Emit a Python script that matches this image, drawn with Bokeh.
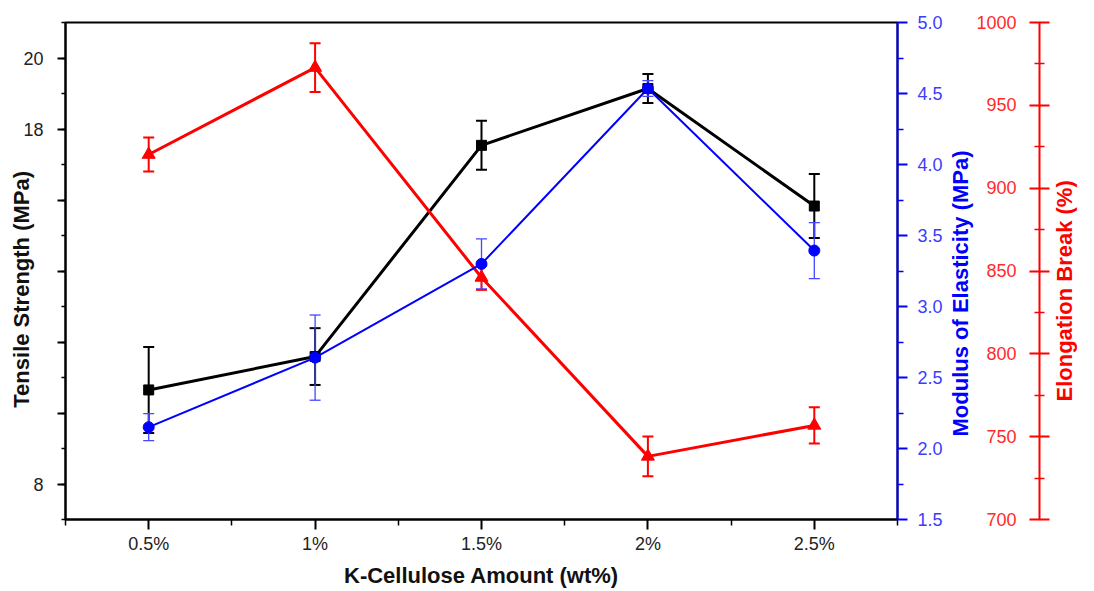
import math
from bokeh.plotting import figure
from bokeh.models import (LinearAxis, Range1d, FixedTicker, Whisker, TeeHead,
                          ColumnDataSource, CustomJSTickFormatter)
from bokeh.embed import file_html
from bokeh.resources import INLINE

# ---------------- data ----------------
x_vals = [0.5, 1.0, 1.5, 2.0, 2.5]
x_labels = ["0.5%", "1%", "1.5%", "2%", "2.5%"]

tensile = [10.65, 11.59, 17.54, 19.14, 15.83]
tensile_err = [1.21, 0.80, 0.69, 0.41, 0.90]

modulus = [2.15, 2.64, 3.30, 4.535, 3.394]
modulus_err = [0.095, 0.30, 0.176, 0.055, 0.197]

elong = [920.3, 972.8, 846.1, 738.1, 756.8]
elong_err = [10.3, 14.7, 7.5, 12.0, 11.0]

tensile_ticks = [8, 10, 12, 14, 16, 18, 20]
tensile_labels = ["8", "", "", "", "", "18", "20"]
modulus_ticks = [1.5, 2.0, 2.5, 3.0, 3.5, 4.0, 4.5, 5.0]
modulus_labels = ["1.5", "2.0", "2.5", "3.0", "3.5", "4.0", "4.5", "5.0"]
elong_ticks = [700, 750, 800, 850, 900, 950, 1000]
elong_labels = ["700", "750", "800", "850", "900", "950", "1000"]

FONT = "Liberation Sans"
BLUE = "#0000ff"
BLUE_TXT = "#3c3cff"
RED = "#ff0000"
TITLE_SIZE = "22px"

# layout geometry (screen pixels)
W, H = 1094, 591
FRAME_L, FRAME_R, FRAME_T, FRAME_B = 65, 897, 22, 519
X0, X1 = 0.25, 2.75
Y0, Y1 = 7, 21
MOD0, MOD1 = 1.5, 5.0
EL0, EL1 = 700, 1000

src = ColumnDataSource(dict(
    x=x_vals,
    t=tensile, t_lo=[v - e for v, e in zip(tensile, tensile_err)], t_hi=[v + e for v, e in zip(tensile, tensile_err)],
    m=modulus, m_lo=[v - e for v, e in zip(modulus, modulus_err)], m_hi=[v + e for v, e in zip(modulus, modulus_err)],
    e=elong, e_lo=[v - e for v, e in zip(elong, elong_err)], e_hi=[v + e for v, e in zip(elong, elong_err)],
))

p = figure(width=W, height=H, x_range=Range1d(X0, X1), y_range=Range1d(Y0, Y1),
           output_backend="svg", toolbar_location=None,
           min_border_left=FRAME_L, min_border_right=W - FRAME_R,
           min_border_top=FRAME_T, min_border_bottom=H - FRAME_B)
p.extra_y_ranges = {"mod": Range1d(MOD0, MOD1), "elong": Range1d(EL0, EL1)}
p.xgrid.visible = False
p.ygrid.visible = False
p.outline_line_color = "black"
p.outline_line_width = 2
p.background_fill_color = "white"
p.border_fill_color = "white"

def style_common(ax, color, txt_color):
    ax.axis_line_color = color
    ax.axis_line_width = 2
    ax.major_tick_line_color = color
    ax.major_tick_line_width = 2
    ax.minor_tick_line_color = color
    ax.minor_tick_line_width = 1.5
    ax.major_label_text_font = FONT
    ax.major_label_text_font_size = "18px"
    ax.major_label_text_color = txt_color
    ax.axis_label_text_font = FONT
    ax.axis_label_text_font_size = TITLE_SIZE
    ax.axis_label_text_font_style = "bold"
    ax.axis_label_text_color = color

def screen_to_range(sy, lo, hi):
    return hi - (sy - FRAME_T) * (hi - lo) / (FRAME_B - FRAME_T)

def title_axis(text, range_name, lo, hi, start_sy, color, standoff):
    """A bare axis whose only tick label is the vertical title (reads bottom-to-top)."""
    start = screen_to_range(start_sy, lo, hi)
    ax = LinearAxis(y_range_name=range_name)
    ax.ticker = FixedTicker(ticks=[start], minor_ticks=[])
    ax.major_label_overrides = {start: text}
    ax.major_label_orientation = math.pi / 2
    ax.axis_line_color = None
    ax.major_tick_line_color = None
    ax.minor_tick_line_color = None
    ax.major_tick_in = 0
    ax.major_tick_out = 0
    ax.minor_tick_in = 0
    ax.minor_tick_out = 0
    ax.major_label_standoff = standoff
    ax.major_label_text_font = FONT
    ax.major_label_text_font_size = TITLE_SIZE
    ax.major_label_text_font_style = "bold"
    ax.major_label_text_color = color
    p.add_layout(ax, "right")
    return ax

NB = "\u00a0"

# x axis
xa = p.xaxis[0]
style_common(xa, "black", "#222222")
xa.ticker = FixedTicker(ticks=x_vals, minor_ticks=[v - 0.25 for v in x_vals] + [x_vals[-1] + 0.25])
xa.major_label_overrides = {v: l for v, l in zip(x_vals, x_labels)}
xa.major_tick_in = 0
xa.major_tick_out = 10
xa.minor_tick_in = 0
xa.minor_tick_out = 6
xa.major_label_standoff = 4
xa.axis_label = "K-Cellulose Amount (wt%)"
xa.axis_label_standoff = 6
xa.axis_label_text_color = "#111111"

# left axis
ya = p.yaxis[0]
style_common(ya, "black", "#222222")
ya.ticker = FixedTicker(ticks=tensile_ticks, minor_ticks=list(range(7, 22)))
ya.major_label_overrides = {v: l for v, l in zip(tensile_ticks, tensile_labels)}
ya.major_tick_in = 0
ya.major_tick_out = 8
ya.minor_tick_in = 0
ya.minor_tick_out = 4
ya.major_label_standoff = 14
ya.axis_label = "Tensile Strength (MPa)" + NB * 6
ya.axis_label_standoff = -14
ya.axis_label_text_color = "#111111"

# blue right axis
ba = LinearAxis(y_range_name="mod")
style_common(ba, BLUE, BLUE_TXT)
ba.ticker = FixedTicker(ticks=modulus_ticks, minor_ticks=[v + 0.25 for v in modulus_ticks[:-1]])
ba.major_label_overrides = {v: l for v, l in zip(modulus_ticks, modulus_labels)}
ba.major_tick_in = 0
ba.major_tick_out = 10
ba.minor_tick_in = 0
ba.minor_tick_out = 6
ba.major_label_standoff = 10
p.add_layout(ba, "right")

# blue title
title_axis("Modulus of Elasticity (MPa)", "mod", MOD0, MOD1, 436, BLUE, 15)

# red labels-only axis (labels sit left of the red axis line)
ra_lab = LinearAxis(y_range_name="elong")
style_common(ra_lab, RED, RED)
ra_lab.ticker = FixedTicker(ticks=elong_ticks, minor_ticks=[])
ra_lab.major_label_overrides = {v: (NB * 2 * (4 - len(l))) + l + NB * 4 for v, l in zip(elong_ticks, elong_labels)}
ra_lab.axis_line_color = None
ra_lab.major_tick_line_color = None
ra_lab.minor_tick_line_color = None
ra_lab.major_tick_in = 0
ra_lab.major_tick_out = 0
ra_lab.minor_tick_in = 0
ra_lab.minor_tick_out = 0
ra_lab.major_label_standoff = -12
ra_lab.major_label_text_color = "#ff2a2a"
p.add_layout(ra_lab, "right")

# red axis line and ticks
ra = LinearAxis(y_range_name="elong")
style_common(ra, RED, RED)
ra.ticker = FixedTicker(ticks=elong_ticks, minor_ticks=[v + 25 for v in elong_ticks[:-1]])
ra.formatter = CustomJSTickFormatter(code="return ''")
ra.major_tick_in = 10
ra.major_tick_out = 10
ra.minor_tick_in = 5
ra.minor_tick_out = 5
ra.major_label_standoff = 0
p.add_layout(ra, "right")

# red title
title_axis("Elongation Break (%)", "elong", EL0, EL1, 401, RED, 15)

# ---------------- series ----------------
def add_whisker(lo, hi, color, width, yname=None):
    kw = dict(base="x", lower=lo, upper=hi, source=src, line_color=color, line_width=width,
              upper_head=TeeHead(size=11, line_color=color, line_width=width),
              lower_head=TeeHead(size=11, line_color=color, line_width=width))
    if yname:
        kw["y_range_name"] = yname
    p.add_layout(Whisker(**kw))

# tensile (black)
add_whisker("t_lo", "t_hi", "black", 2)
p.line("x", "t", source=src, line_color="black", line_width=3)
p.scatter("x", "t", source=src, marker="square", size=10, fill_color="black", line_color="black")

# elongation (red)
add_whisker("e_lo", "e_hi", RED, 2, "elong")
p.line("x", "e", source=src, line_color=RED, line_width=3, y_range_name="elong")
p.scatter("x", "e", source=src, marker="triangle", size=13, fill_color=RED, line_color=RED,
          y_range_name="elong")

# modulus (blue)
add_whisker("m_lo", "m_hi", "#4646ff", 1.3, "mod")
p.line("x", "m", source=src, line_color=BLUE, line_width=2, y_range_name="mod")
p.scatter("x", "m", source=src, marker="circle", size=11, fill_color=BLUE, line_color=BLUE,
          y_range_name="mod")

open("out.html", "w").write(file_html(p, INLINE))
